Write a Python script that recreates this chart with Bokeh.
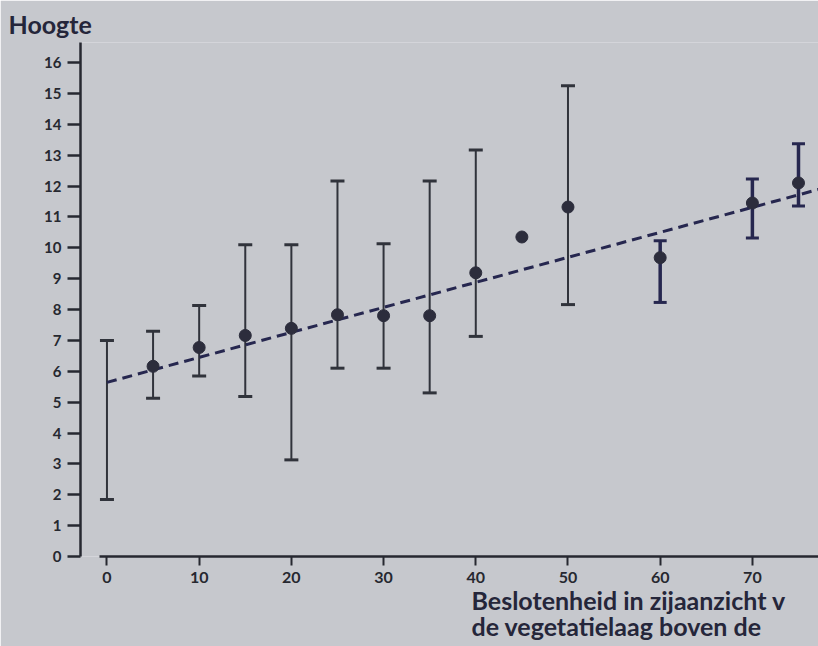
from bokeh.plotting import figure
from bokeh.models import ColumnDataSource, Whisker, TeeHead, Title, FixedTicker, Range1d
from bokeh.embed import file_html
from bokeh.resources import INLINE

# ---- data ----
x_values = [0, 5, 10, 15, 20, 25, 30, 35, 40, 45, 50, 60, 70, 75]
mean_height = [None, 6.16, 6.77, 7.16, 7.39, 7.83, 7.8, 7.8, 9.19, 10.35, 11.32, 9.68, 11.45, 12.1]
lower_height = [1.85, 5.13, 5.85, 5.18, 3.13, 6.1, 6.1, 5.3, 7.13, None, 8.16, 8.23, 10.32, 11.35]
upper_height = [7.0, 7.3, 8.13, 10.1, 10.1, 12.16, 10.13, 12.16, 13.17, None, 15.25, 10.23, 12.23, 13.37]
fit_intercept = 5.64
fit_slope = 0.081
fit_x = [0, 78]
x_ticks = [0, 10, 20, 30, 40, 50, 60, 70]
y_ticks = list(range(0, 17))
y_title = "Hoogte"
x_title_1 = "Beslotenheid in zijaanzicht v"
x_title_2 = "de vegetatielaag boven de"

# ---- styling ----
BG = "#c6c8cd"
INK = "#262830"
TITLE_INK = "#25263a"
NAVY = "#26274f"
FONT = "Lato"

X0, X1 = -2.87, 77.17
Y0, Y1 = 0, 16.65

p = figure(width=818, height=646,
           x_range=Range1d(X0, X1), y_range=Range1d(Y0, Y1),
           output_backend="svg", toolbar_location=None,
           min_border_left=80, min_border_right=0, min_border_top=42, min_border_bottom=90,
           background_fill_color=BG, border_fill_color=BG, outline_line_color=None)
p.xgrid.visible = False
p.ygrid.visible = False

# y axis
ya = p.yaxis[0]
ya.ticker = FixedTicker(ticks=y_ticks)
ya.major_tick_out = 13
ya.major_tick_in = 0
ya.minor_tick_line_color = None
ya.axis_line_width = 2.5
ya.axis_line_color = INK
ya.major_tick_line_width = 2.5
ya.major_tick_line_color = INK
ya.major_label_text_font = FONT
ya.major_label_text_font_style = "bold"
ya.major_label_text_font_size = "15px"
ya.major_label_text_color = INK
ya.major_label_standoff = 6
ya.bounds = (Y0, Y1)

# x axis
xa = p.xaxis[0]
xa.ticker = FixedTicker(ticks=x_ticks)
xa.major_tick_out = 9
xa.major_tick_in = 0
xa.minor_tick_line_color = None
xa.axis_line_width = 2.5
xa.axis_line_color = INK
xa.major_tick_line_width = 2
xa.major_tick_line_color = INK
xa.major_label_text_font = FONT
xa.major_label_text_font_style = "bold"
xa.major_label_text_font_size = "16px"
xa.major_label_text_color = INK
xa.major_label_standoff = 6
xa.bounds = (-0.85, X1)

# regression line
fit_y = [fit_intercept + fit_slope * v for v in fit_x]
p.line(fit_x, fit_y, line_color=NAVY, line_width=3, line_dash="10 6")

# error bars: thin for the left group, heavier for the right group
def rows(cond):
    keep = [i for i in range(len(x_values))
            if lower_height[i] is not None and cond(x_values[i])]
    return ColumnDataSource(dict(
        x=[x_values[i] for i in keep],
        lower=[lower_height[i] for i in keep],
        upper=[upper_height[i] for i in keep]))

for cond, lw, col, cap in [(lambda v: v <= 50, 2, "#30333b", 14),
                           (lambda v: v > 50, 3.5, NAVY, 13)]:
    src = rows(cond)
    w = Whisker(base="x", lower="lower", upper="upper", source=src,
                line_color=col, line_width=lw,
                upper_head=TeeHead(size=cap, line_width=3, line_color=col),
                lower_head=TeeHead(size=cap, line_width=3, line_color=col))
    p.add_layout(w)

# means
mx = [x_values[i] for i in range(len(x_values)) if mean_height[i] is not None]
my = [m for m in mean_height if m is not None]
p.scatter(mx, my, size=12, fill_color="#2c2d3c", line_color="#2c2d3c")

# titles
def title(text, offset, standoff, size):
    return Title(text=text, align="left", offset=offset, standoff=standoff,
                 text_font=FONT, text_font_style="bold", text_font_size=size,
                 text_color=TITLE_INK, text_line_height=1.0)

p.add_layout(title(y_title, -72, 8, "25px"), "above")
p.add_layout(title(x_title_1, 391, -5, "25px"), "below")
p.add_layout(title(x_title_2, 391, -8, "25px"), "below")

open("out.html", "w").write(file_html(p, INLINE))
